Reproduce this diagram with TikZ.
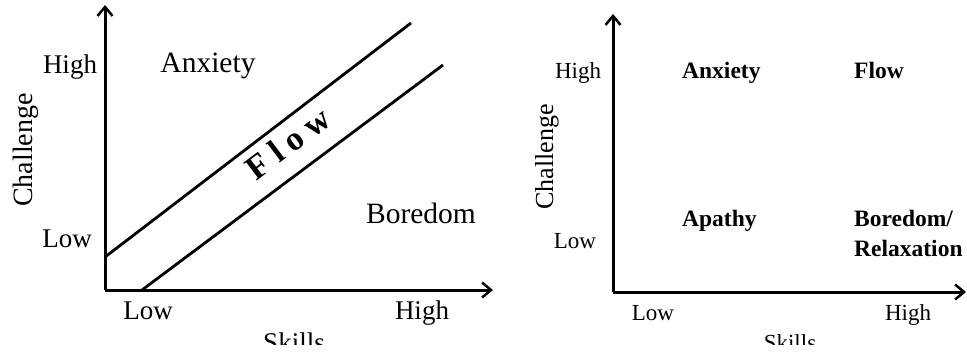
\documentclass[tikz,border=0pt]{standalone}
\usepackage{fontspec}
\setmainfont{Liberation Serif}
\usetikzlibrary{arrows.meta}
\begin{document}
\begin{tikzpicture}[x=1pt,y=-1pt,
  axis/.style={line width=3pt,-{Straight Barb[length=9pt,width=15pt,line width=2.5pt]}},
  band/.style={line width=2.8pt},
  lbl/.style={font=\fontsize{27}{30}\selectfont,inner sep=0pt},
  lbig/.style={font=\fontsize{29.5}{32}\selectfont,inner sep=0pt},
  rlbl/.style={font=\fontsize{23}{25}\selectfont,inner sep=0pt},
  zone/.style={font=\fontsize{23.5}{25}\selectfont\bfseries,inner sep=0pt,anchor=base west}]
\useasboundingbox[fill=white] (0,0) rectangle (967,356);
% ---------- left chart ----------
\coordinate (LO) at (105,290);
\coordinate (LY) at (105,5);
\coordinate (LX) at (493,290);
\draw[axis] (LO) -- (LY);
\draw[axis] (LO) -- (LX);
\coordinate (U1) at (105,257);
\coordinate (U2) at (411,23);
\coordinate (D1) at (142,290);
\coordinate (D2) at (443,65);
\draw[band] (U1) -- (U2);
\draw[band] (D1) -- (D2);
\node[lbl,anchor=base] (lhigh) at (70,73) {High};
\node[lbl,anchor=base] (llow) at (67,247) {Low};
\node[lbl,anchor=base,rotate=90,font=\fontsize{28}{30}\selectfont] (lchal) at (32,150) {Challenge};
\node[lbig,anchor=base] (lanx) at (208,72) {Anxiety};
\node[lbig,anchor=base] (lbor) at (421,223) {Boredom};
\node[lbl,anchor=base] (lxlow) at (148,319) {Low};
\node[lbl,anchor=base] (lxhigh) at (422,319) {High};
\node[lbl,anchor=base] (lskills) at (294,351) {Skills};
\node[font=\fontsize{34}{36}\selectfont\bfseries\addfontfeatures{LetterSpace=24},inner sep=0pt,rotate=37] (lflow) at (288,143) {Flow};
% ---------- right chart ----------
\coordinate (RO) at (613,292);
\coordinate (RY) at (613,14);
\coordinate (RX) at (966,292);
\draw[axis] (RO) -- (RY);
\draw[axis] (RO) -- (RX);
\node[rlbl,anchor=base] (rhigh) at (578,78) {High};
\node[rlbl,anchor=base] (rlow) at (575,248) {Low};
\node[rlbl,anchor=base,rotate=90,font=\fontsize{26}{28}\selectfont] (rchal) at (553,157) {Challenge};
\node[zone] (ranx) at (682,78) {Anxiety};
\node[zone] (rflow) at (854,78) {Flow};
\node[zone] (rapa) at (682,226) {Apathy};
\node[zone] (rbor) at (854,226) {Boredom/};
\node[zone] (rrel) at (854,256) {Relaxation};
\node[rlbl,anchor=base] (rxlow) at (653,320) {Low};
\node[rlbl,anchor=base] (rxhigh) at (908,320) {High};
\node[rlbl,anchor=base] (rskills) at (790,350) {Skills};
% bottom crop
\fill[white] (0,345) rectangle (967,356);
\end{tikzpicture}
\end{document}
